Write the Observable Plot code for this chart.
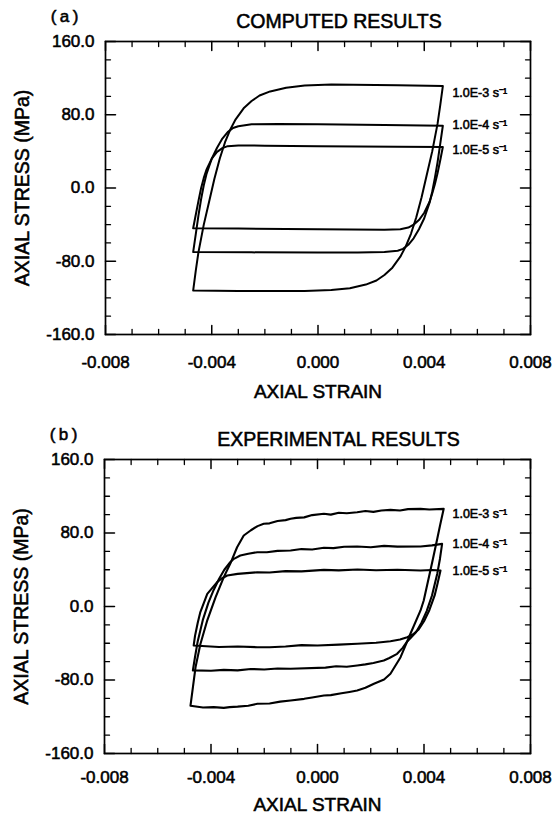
<!DOCTYPE html>
<html>
<head>
<meta charset="utf-8">
<script src="https://cdn.jsdelivr.net/npm/d3@7"></script>
<script src="https://cdn.jsdelivr.net/npm/@observablehq/plot@0.6"></script>
<style>
  html, body { margin: 0; padding: 0; background: #fff; }
  #chart svg { display: block; }
  #chart svg text { stroke: #000; stroke-width: 0.55px; }
</style>
</head>
<body>
<div id="chart"></div>
<script>
// ---------- axis ticks and labels ----------
const strainTicks = [-0.008, -0.004, 0, 0.004, 0.008];
const strainMinor = [-0.007, -0.006, -0.005, -0.003, -0.002, -0.001, 0.001, 0.002, 0.003, 0.005, 0.006, 0.007];
const stressTicks = [160, 80, 0, -80, -160];
const stressMinor = [140, 120, 100, 60, 40, 20, -20, -40, -60, -100, -120, -140];
const rateLabels = ["1.0E-3 s\u207B\u00B9", "1.0E-4 s\u207B\u00B9", "1.0E-5 s\u207B\u00B9"];
const panelTitles = ["COMPUTED RESULTS", "EXPERIMENTAL RESULTS"];
const panelTags = ["(\u2009a\u2009)", "(\u2009b\u2009)"];
const xLabel = "AXIAL STRAIN";
const yLabel = "AXIAL STRESS (MPa)";

// label anchor positions (strain, stress)
const labelStrainA = [0.00506, 0.00506, 0.00506];
const labelStressA = [104, 69, 42];
const labelStrainB = [0.00507, 0.00507, 0.00507];
const labelStressB = [101, 68.5, 39];

// ---------- (a) computed loops: [strain, stress MPa] ----------
const computed3 = [
  [-0.0047,-112],[-0.0046,-90],[-0.0045,-70],[-0.0043,-40],[-0.0041,-15],[-0.0039,10],[-0.0037,32],
  [-0.0035,50],[-0.0033,64],[-0.0031,75],[-0.0028,87],[-0.0025,95],[-0.0022,101],[-0.0018,105.5],
  [-0.0012,109.5],[-0.0005,112],[0.0005,113],[0.003,112.3],[0.0047,111.3],
  [0.0046,90],[0.0045,70],[0.0043,40],[0.0041,15],[0.0039,-10],[0.0037,-32],[0.0035,-50],
  [0.0033,-64],[0.0031,-75],[0.0028,-87],[0.0025,-95],[0.0022,-101],[0.0018,-105.5],[0.0012,-109.5],
  [0.0005,-111.5],[-0.0005,-112.5],[-0.003,-112.5],[-0.0047,-112]
];
const computed4 = [
  [-0.0047,-70],[-0.0046,-50],[-0.0045,-30],[-0.0044,-12],[-0.0043,3],[-0.0042,15],[-0.004,32],
  [-0.0038,44],[-0.0036,54],[-0.0034,61],[-0.0032,65.5],[-0.003,67.5],[-0.0025,69.5],[-0.0015,70],
  [0.0,69.5],[0.0025,68.7],[0.0047,68],
  [0.0046,48],[0.0045,28],[0.0044,11],[0.0043,-4],[0.0042,-16],[0.004,-33],[0.0038,-45],
  [0.0036,-55],[0.0034,-62],[0.0032,-66.5],[0.003,-68.5],[0.0025,-70],[0.0015,-70.5],
  [0.0,-70.5],[-0.0025,-70.3],[-0.0047,-70]
];
const computed5 = [
  [-0.0047,-44],[-0.0046,-29],[-0.0045,-14],[-0.0044,0],[-0.0043,11],[-0.0042,20],[-0.004,32],
  [-0.0038,39.5],[-0.0036,43.5],[-0.0034,45.7],[-0.003,46.5],[-0.002,46.2],[0.0,45.6],[0.003,45],[0.0047,44.8],
  [0.0046,30],[0.0045,16],[0.0044,4],[0.0043,-6],[0.0042,-15],[0.004,-27],[0.0038,-35],
  [0.0036,-40],[0.0034,-43.2],[0.0031,-45],[0.0025,-45.5],[0.0,-45],[-0.003,-44.3],[-0.0047,-44]
];

// ---------- (b) experimental loops ----------
const experimental3 = [
  [-0.00477,-108],[-0.00468,-88],[-0.00458,-66],[-0.0044,-41],[-0.00414,-15],[-0.00383,10],
  [-0.00352,32],[-0.00327,47],[-0.00302,64.5],[-0.00277,77.3],[-0.0025,83],[-0.00225,87.5],
  [-0.00202,90],[-0.0018,90.5],[-0.0015,93],[-0.0012,94],[-0.00101,95.5],[-0.0008,96.5],
  [-0.0005,97],[-0.0002,99.5],[0.00024,100.9],[0.0005,100],[0.0008,102],[0.0011,101.5],
  [0.00149,102.6],[0.0018,104],[0.0021,103],[0.0024,104.5],[0.00274,105.2],[0.0031,104.5],
  [0.0034,106],[0.00387,106.3],[0.0042,105.5],[0.00474,106.3],
  [0.0046,88],[0.0045,74],[0.0043,47],[0.0041,21],[0.00399,6.5],[0.00387,-4.3],[0.00349,-29.7],
  [0.00312,-55.2],[0.00274,-73.2],[0.0025,-79.5],[0.00212,-84.1],[0.0018,-88.5],[0.00149,-91.4],
  [0.0012,-93],[0.0009,-94.5],[0.0005,-96.5],[0.00024,-96.9],[-0.0002,-99],[-0.0005,-100.5],
  [-0.00101,-102.3],[-0.0014,-103.5],[-0.0018,-105.5],[-0.00226,-105.9],[-0.0026,-108],
  [-0.003,-109],[-0.0033,-109.5],[-0.00352,-110.3],[-0.0039,-109.5],[-0.0043,-110],[-0.00477,-108]
];
const experimental4 = [
  [-0.00468,-69.5],[-0.0046,-55],[-0.0045,-38],[-0.0043,-14],[-0.0041,4],[-0.0039,18],[-0.0037,30],
  [-0.0035,40],[-0.0033,47.5],[-0.00314,51.9],[-0.0029,55.5],[-0.0026,57.5],[-0.00226,59.1],
  [-0.0019,59],[-0.0015,60.5],[-0.00101,61],[-0.0006,62.5],[-0.0002,62],[0.00024,63.9],[0.0006,63.5],
  [0.001,65],[0.00149,65.3],[0.002,64.5],[0.0025,66],[0.003,65.2],[0.00387,65.3],[0.0043,66.5],[0.00468,68.2],
  [0.0046,52],[0.0045,36],[0.0043,12],[0.0041,-5],[0.0039,-18],[0.0037,-28],[0.00337,-38],
  [0.0032,-45],[0.00299,-51.5],[0.0027,-56],[0.00249,-58.8],[0.0021,-61.5],[0.0018,-63],
  [0.00149,-64.2],[0.0011,-65.5],[0.0007,-65],[0.0003,-66.5],[-0.00101,-67.8],[-0.0015,-67.5],
  [-0.002,-68.5],[-0.0025,-68],[-0.003,-69.5],[-0.00352,-69],[-0.004,-70],[-0.00468,-69.5]
];
const experimental5 = [
  [-0.00465,-42.4],[-0.0046,-32],[-0.0045,-18],[-0.0044,-6],[-0.00414,13.8],[-0.00377,26.5],
  [-0.0036,30.5],[-0.00339,33.7],[-0.003,35.5],[-0.00226,37.3],[-0.0018,37],[-0.0012,38.5],
  [-0.0006,38.2],[0.00024,39.9],[0.0008,39.3],[0.0015,40.2],[0.0022,39.5],[0.003,40],
  [0.00387,39.2],[0.0043,39.8],[0.00462,39.2],
  [0.0045,24],[0.0044,12],[0.0042,-4],[0.004,-16],[0.0038,-25],[0.00358,-30.5],[0.00337,-33.4],
  [0.0031,-36],[0.00274,-37.8],[0.0022,-39.5],[0.00149,-40.6],[0.0008,-41.5],[0.0,-42.5],
  [-0.0006,-42],[-0.0012,-43.5],[-0.0018,-44.3],[-0.00226,-44.3],[-0.003,-43.5],[-0.0037,-44],[-0.00465,-42.4]
];

// ---------- drawing ----------
const tickShape = {draw(context, l) { context.moveTo(0, 0); context.lineTo(0, -l); }};
const FONT = "'Liberation Sans', Arial, Helvetica, sans-serif";

function panel({loops, tag, title, labelX, labelY, height, marginLeft, marginBottom, tickPad, xLabDy, strokeWidth}) {
  const labels = rateLabels.map((t, i) => ({t, x: labelX[i], y: labelY[i]}));
  return Plot.plot({
    width: 553,
    height,
    marginTop: 41,
    marginRight: 23,
    marginLeft,
    marginBottom,
    style: {fontFamily: FONT, color: "#000", background: "#fff", overflow: "visible"},
    x: {domain: [-0.008, 0.008], axis: null},
    y: {domain: [-160, 160], axis: null},
    marks: [
      ...loops.map(L => Plot.line(L, {x: d => d[0], y: d => d[1], stroke: "#000", strokeWidth, strokeLinejoin: "round", curve: "linear"})),
      Plot.frame({stroke: "#000", strokeWidth: 1.7}),
      // inward ticks on all four sides
      Plot.vectorX(strainTicks, {frameAnchor: "bottom", length: 9, rotate: 0, anchor: "start", shape: tickShape, strokeWidth: 1.5}),
      Plot.vectorX(strainMinor, {frameAnchor: "bottom", length: 5, rotate: 0, anchor: "start", shape: tickShape, strokeWidth: 1.3}),
      Plot.vectorX(strainTicks, {frameAnchor: "top", length: 9, rotate: 180, anchor: "start", shape: tickShape, strokeWidth: 1.5}),
      Plot.vectorX(strainMinor, {frameAnchor: "top", length: 5, rotate: 180, anchor: "start", shape: tickShape, strokeWidth: 1.3}),
      Plot.vectorY(stressTicks, {frameAnchor: "left", length: 10, rotate: 90, anchor: "start", shape: tickShape, strokeWidth: 1.5}),
      Plot.vectorY(stressMinor, {frameAnchor: "left", length: 5, rotate: 90, anchor: "start", shape: tickShape, strokeWidth: 1.3}),
      Plot.vectorY(stressTicks, {frameAnchor: "right", length: 10, rotate: -90, anchor: "start", shape: tickShape, strokeWidth: 1.5}),
      Plot.vectorY(stressMinor, {frameAnchor: "right", length: 5, rotate: -90, anchor: "start", shape: tickShape, strokeWidth: 1.3}),
      // tick labels
      Plot.axisX(strainTicks, {anchor: "bottom", tickSize: 0, tickPadding: tickPad, tickFormat: d => d.toFixed(3), fontSize: 17, label: null}),
      Plot.axisY(stressTicks, {anchor: "left", tickSize: 0, tickPadding: 11, tickFormat: d => d.toFixed(1), fontSize: 17, label: null}),
      // axis titles
      Plot.text([xLabel], {frameAnchor: "bottom", dy: xLabDy, fontSize: 19, lineAnchor: "middle", textAnchor: "middle"}),
      Plot.text([yLabel], {frameAnchor: "left", dx: -83, rotate: -90, fontSize: 19.5, lineAnchor: "middle", textAnchor: "middle"}),
      // panel titles
      Plot.text([title], {frameAnchor: "top", dx: 21, dy: -20, fontSize: 19.5, lineAnchor: "middle", textAnchor: "middle"}),
      Plot.text([tag], {frameAnchor: "top-left", dx: -41, dy: -25, fontSize: 17, lineAnchor: "middle", textAnchor: "middle"}),
      // rate labels
      Plot.text(labels, {x: "x", y: "y", text: "t", textAnchor: "start", fontSize: 12.5, lineAnchor: "middle"})
    ]
  });
}

const root = document.getElementById("chart");
root.appendChild(panel({
  loops: [computed3, computed4, computed5], tag: panelTags[0], title: panelTitles[0],
  labelX: labelStrainA, labelY: labelStressA, height: 418, marginLeft: 105, marginBottom: 84,
  tickPad: 21, xLabDy: 57, strokeWidth: 2
}));
root.appendChild(panel({
  loops: [experimental3, experimental4, experimental5], tag: panelTags[1], title: panelTitles[1],
  labelX: labelStrainB, labelY: labelStressB, height: 395, marginLeft: 104, marginBottom: 60,
  tickPad: 17, xLabDy: 51, strokeWidth: 2.1
}));
</script>
</body>
</html>
